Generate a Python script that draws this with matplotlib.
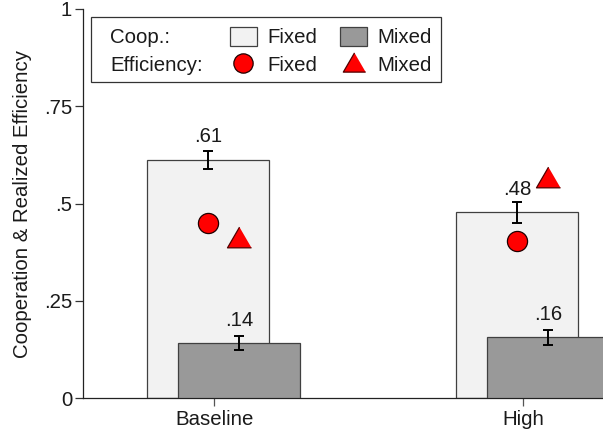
import numpy as np
import matplotlib.pyplot as plt
from matplotlib.patches import Rectangle
from matplotlib.lines import Line2D

plt.rcParams['font.family'] = ['Liberation Sans', 'DejaVu Sans']

groups = ['Baseline', 'High']
coop_fixed = [0.612, 0.477]
coop_fixed_err = [0.024, 0.026]
coop_mixed = [0.141, 0.156]
coop_mixed_err = [0.018, 0.019]
eff_fixed = [0.451, 0.404]
eff_mixed = [0.413, 0.568]
yticks = [0, 0.25, 0.5, 0.75, 1]
ytick_labels = ['0', '.25', '.5', '.75', '1']

W, H = 603, 433
FS = 14.7
light = '#f2f2f2'
dark = '#999999'
edge = '#404040'
txt = '#1a1a1a'

fig = plt.figure(figsize=(W / 100, H / 100), dpi=100)
ax = fig.add_axes([83 / W, (H - 398) / H, (W - 83) / W, (398 - 9) / H])

x = np.arange(len(groups))
off_f, off_m, bw = -0.02, 0.08, 0.396

ax.bar(x + off_f, coop_fixed, bw, color=light, edgecolor=edge, linewidth=0.9, zorder=2)
ax.errorbar(x + off_f, coop_fixed, yerr=coop_fixed_err, fmt='none', ecolor='black',
            elinewidth=1.4, capsize=3.9, capthick=1.4, zorder=3)
ax.bar(x + off_m, coop_mixed, bw, color=dark, edgecolor=edge, linewidth=0.9, zorder=4)
ax.errorbar(x + off_m, coop_mixed, yerr=coop_mixed_err, fmt='none', ecolor='black',
            elinewidth=1.4, capsize=3.9, capthick=1.4, zorder=5)

for xs, vals in [(x + off_f, coop_fixed), (x + off_m, coop_mixed)]:
    for xi, v in zip(xs, vals):
        ax.annotate(f"{v:.2f}".lstrip('0'), (xi, v), xytext=(0, 12.6),
                    textcoords='offset points', ha='center', va='baseline',
                    fontsize=FS, color=txt, zorder=6)

tri = [(0, 0.86), (-1, -0.86), (1, -0.86)]
ax.plot(x + off_f, eff_fixed, 'o', ms=14.5, mfc='red', mec='#200000', mew=0.9,
        ls='none', zorder=7)
ax.plot(x + off_m, eff_mixed, marker=tri, ms=17.3, mfc='red', mec='#500000', mew=0.9,
        ls='none', zorder=7)

ax.set_xlim(-0.4249, 1.2579)
ax.set_ylim(0, 1)
ax.set_xticks(x)
ax.set_xticklabels(groups, fontsize=FS, color=txt)
ax.set_yticks(yticks)
ax.set_yticklabels(ytick_labels, fontsize=FS, color=txt)
ax.tick_params(axis='y', length=5.8, width=0.9, pad=2, color='#333333')
ax.tick_params(axis='x', length=5.8, width=0.9, pad=3, color='#555555')
for s in ['top', 'right']:
    ax.spines[s].set_visible(False)
for s in ['left', 'bottom']:
    ax.spines[s].set_linewidth(0.9)
    ax.spines[s].set_color('#222222')
ax.set_ylabel('Cooperation & Realized Efficiency', fontsize=FS, color=txt)
ax.yaxis.set_label_coords(-0.098, 0.5)


# legend drawn by hand in pixel positions
def fx(px):
    return px / W


def fy(py):
    return 1 - py / H


tf = fig.transFigure
fig.add_artist(Rectangle((fx(90.7), fy(81.7)), fx(441.3) - fx(90.7), fy(17.3) - fy(81.7),
                         transform=tf, facecolor='white', edgecolor='#333333', lw=0.9))
fig.text(fx(110), fy(42.7), 'Coop.:', fontsize=FS, color=txt, va='baseline')
fig.text(fx(110), fy(71), 'Efficiency:', fontsize=FS, color=txt, va='baseline')
fig.add_artist(Rectangle((fx(230), fy(45.7)), fx(256.7) - fx(230), fy(26.7) - fy(45.7),
                         transform=tf, facecolor=light, edgecolor=edge, lw=0.9))
fig.add_artist(Rectangle((fx(340), fy(45.7)), fx(366.7) - fx(340), fy(26.7) - fy(45.7),
                         transform=tf, facecolor=dark, edgecolor=edge, lw=0.9))
fig.text(fx(267.3), fy(42.7), 'Fixed', fontsize=FS, color=txt, va='baseline')
fig.text(fx(377.3), fy(42.7), 'Mixed', fontsize=FS, color=txt, va='baseline')
fig.add_artist(Line2D([fx(243)], [fy(63.3)], marker='o', ms=13.9, mfc='red',
                      mec='#200000', mew=0.9, ls='none', transform=tf))
fig.add_artist(Line2D([fx(353.8)], [fy(62)], marker=tri, ms=16.1, mfc='red',
                      mec='#500000', mew=0.9, ls='none', transform=tf))
fig.text(fx(267.3), fy(71), 'Fixed', fontsize=FS, color=txt, va='baseline')
fig.text(fx(377.3), fy(71), 'Mixed', fontsize=FS, color=txt, va='baseline')

fig.savefig('out.png', dpi=100)
